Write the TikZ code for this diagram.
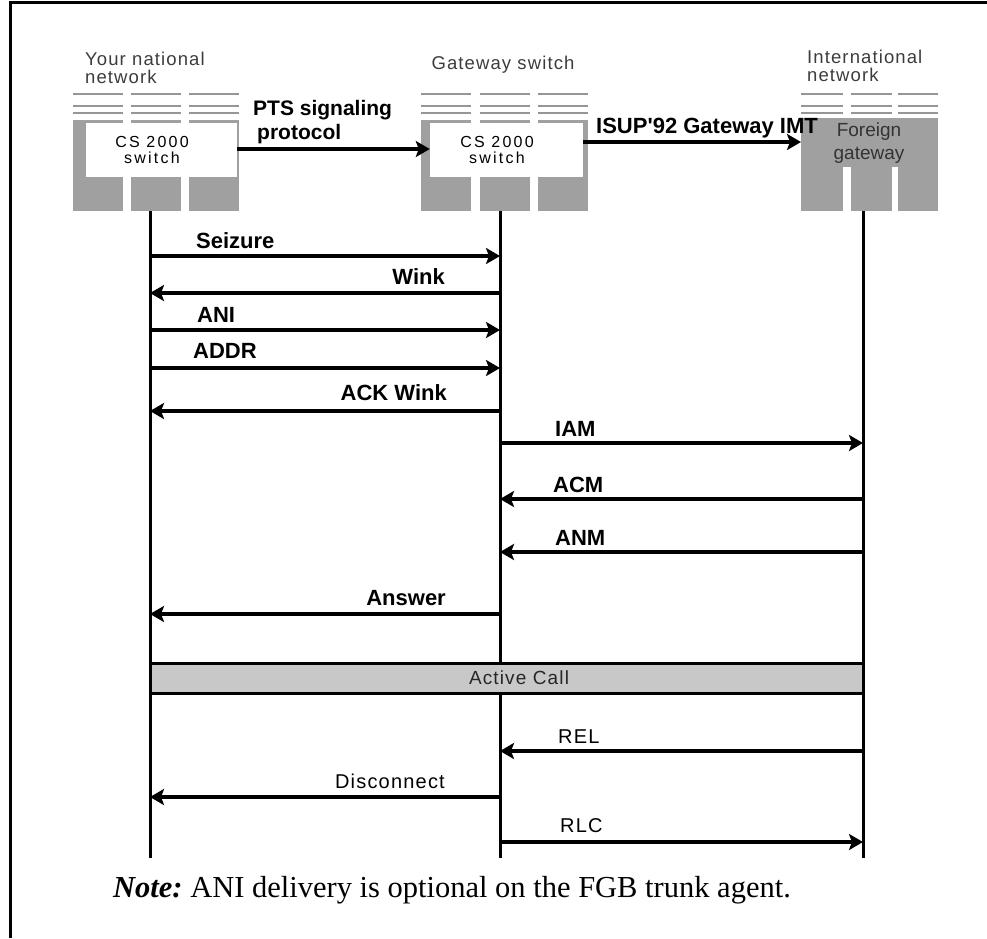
\documentclass[tikz,border=0pt]{standalone}
\usepackage{fontspec}
\setmainfont{Liberation Serif}
\newfontfamily\arialfont{Liberation Sans}
\newfontfamily\headfont[LetterSpace=6]{Liberation Sans}
\newfontfamily\wideface[LetterSpace=14]{Liberation Sans}
\usetikzlibrary{arrows.meta,positioning}
\definecolor{boxgray}{RGB}{160,160,160}
\definecolor{rulegray}{RGB}{150,150,150}
\definecolor{callgray}{RGB}{200,200,200}
\definecolor{headgray}{RGB}{60,60,60}

\begin{document}
\begin{tikzpicture}[x=1pt, y=-1pt,
    lifeline/.style={line width=3pt},
    msg/.style={line width=3.5pt, -{Stealth[length=14pt, width=16pt, inset=3pt]}},
    msglabel/.style={font=\arialfont\bfseries\fontsize{22}{24}\selectfont, inner sep=0pt, anchor=base west},
    thinlabel/.style={font=\headfont\fontsize{20}{22}\selectfont, inner sep=0pt, anchor=base west},
    head/.style={font=\headfont\fontsize{18.5}{18}\selectfont, text=headgray, align=left, inner sep=0pt},
    swbox/.style={fill=white, inner sep=0pt},
    swtext/.style={font=\wideface\fontsize{16}{16.5}\selectfont, align=center, inner sep=0pt}]
\useasboundingbox (0,0) rectangle (987,938);

% frame
\draw[line width=3pt] (10,938) -- (10,2) -- (987,2);

% switch columns with ruled tops
\foreach \x/\w in {73/50,131/50,189/50, 421/50,480/50,538/50, 801/42,851/41,898/40} {
    \fill[boxgray] (\x,120) rectangle ++(\w,91);
    \foreach \yy in {94,106,113}
        \draw[rulegray, line width=2pt] (\x,\yy) -- ++(\w,0);
}
\fill[boxgray] (801,118) rectangle (938,167);

% switch labels
\node[swbox, minimum width=151pt, minimum height=54pt] (natsw) at (161.5,150) {};
\node[swtext] at (152,150) {CS 2000\\switch};
\node[swbox, minimum width=153pt, minimum height=54pt] (gwsw) at (506.5,150) {};
\node[swtext] at (497,150) {CS 2000\\switch};
\node[head, align=center, text=black!80, font=\arialfont\fontsize{19}{23}\selectfont] (forgw) at (869,143) {Foreign\\gateway};

% headings
\node[head, anchor=north west] (natlab) at (85,52) {Your national\\network};
\node[head, anchor=base] (gwlab) at (503,69) {Gateway switch};
\node[head, anchor=north west] (intlab) at (807,50) {International\\network};

% trunks between switches
\draw[msg] (natsw.east |- 0,149) -- (gwsw.west |- 0,149);
\node[msglabel, font=\arialfont\bfseries\fontsize{21}{24}\selectfont] at (253,115) {PTS signaling};
\node[msglabel, font=\arialfont\bfseries\fontsize{21}{24}\selectfont] at (257,139) {protocol};
\draw[msg] (gwsw.east |- 0,142) -- (801,142) coordinate (forin);
\node[msglabel] at (596,133) {ISUP'92 Gateway IMT};

% lifelines
\coordinate (nat) at (150,211);
\coordinate (gw) at (500,211);
\coordinate (intl) at (863,211);
\foreach \c in {nat,gw,intl}
    \draw[lifeline] (\c) -- (\c |- 0,858);

% message rows
\foreach \n/\y in {seize/256, wink/293, ani/330, addr/368, ackw/411, iam/443, acm/499, anm/552,
                   answ/614, rel/751, disc/797, rlc/842}
    \coordinate (\n) at (0,\y);

\draw[msg] (nat |- seize) -- (gw |- seize);
\node[msglabel] at (196,248) {Seizure};
\draw[msg] (gw |- wink) -- (nat |- wink);
\node[msglabel, anchor=base east] at (445,284) {Wink};
\draw[msg] (nat |- ani) -- (gw |- ani);
\node[msglabel] at (197,322) {ANI};
\draw[msg] (nat |- addr) -- (gw |- addr);
\node[msglabel] at (193,358) {ADDR};
\draw[msg] (gw |- ackw) -- (nat |- ackw);
\node[msglabel, anchor=base east] at (447,400) {ACK Wink};
\draw[msg] (gw |- iam) -- (intl |- iam);
\node[msglabel] at (555,436) {IAM};
\draw[msg] (intl |- acm) -- (gw |- acm);
\node[msglabel] at (553,492) {ACM};
\draw[msg] (intl |- anm) -- (gw |- anm);
\node[msglabel] at (555,545) {ANM};
\draw[msg] (gw |- answ) -- (nat |- answ);
\node[msglabel, anchor=base east] at (446,605) {Answer};

% active call
\draw[line width=3pt, fill=callgray] (nat |- 0,663) rectangle (intl |- 0,693);
\node[font=\headfont\fontsize{19}{20}\selectfont, text=black!85] (call) at (519,678) {Active Call};

\draw[msg] (intl |- rel) -- (gw |- rel);
\node[thinlabel] at (558,743) {REL};
\draw[msg] (gw |- disc) -- (nat |- disc);
\node[thinlabel, anchor=base east] at (445,788) {Disconnect};
\draw[msg] (gw |- rlc) -- (intl |- rlc);
\node[thinlabel] at (560,832) {RLC};

% note
\node[anchor=base west, inner sep=0pt, font=\fontsize{30.5}{32}\selectfont] (note) at (113,897)
    {\textbf{\textit{Note:}}\ ANI delivery is optional on the FGB trunk agent.};
\end{tikzpicture}
\end{document}
